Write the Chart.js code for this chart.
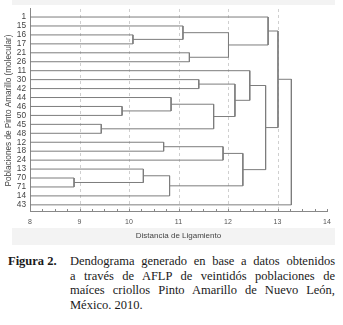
<!DOCTYPE html>
<html>
<head>
<meta charset="utf-8">
<script src="https://cdn.jsdelivr.net/npm/chart.js@4.4.1/dist/chart.umd.min.js"></script>
<style>
html,body{margin:0;padding:0;background:#fff;width:343px;height:325px;overflow:hidden}
#wrap{position:relative;width:343px;height:245px}
.cap{position:absolute;font-family:"Liberation Serif","Times New Roman",serif;font-size:12.5px;line-height:14.7px;color:#1a1a1a}
#lab{left:8px;top:254px;font-weight:bold}
#txt{left:70px;top:254px;width:265px}
#txt div{text-align:justify;text-align-last:justify;white-space:nowrap}
#txt div.last{text-align-last:left}
</style>
</head>
<body>
<div id="wrap"><canvas id="dendro" width="343" height="245"></canvas></div>
<div class="cap" id="lab">Figura 2.</div>
<div class="cap" id="txt">
  <div>Dendograma generado en base a datos obtenidos</div>
  <div>a través de AFLP de veintidós poblaciones de</div>
  <div>maíces criollos Pinto Amarillo de Nuevo León,</div>
  <div class="last">México. 2010.</div>
</div>
<script>
// leaves, top to bottom
const leaves=['1','15','16','17','21','26','11','30','42','44','46','50','45','48','12','18','24','13','70','71','14','43'];
// merges: index < 22 is a leaf, otherwise cluster made by merge (index-22)
const mergeA=[2,1,4,23,0,7,10,9,12,29,27,6,14,34,18,17,37,35,33,26,41];
const mergeB=[3,22,5,24,25,8,11,28,13,30,31,32,15,16,19,36,20,38,39,40,21];
const mergeDist=[10.08,11.09,11.22,12.01,12.81,11.41,9.86,10.85,9.44,11.71,12.14,12.44,10.70,11.90,8.89,10.29,10.82,12.30,12.76,13.01,13.28];
const xTicks=[8,9,10,11,12,13,14];

const xMin=xTicks[0], xMax=xTicks[xTicks.length-1];
const nodes=leaves.map((_,i)=>({x:xMin,y:i}));
const datasets=[];
mergeDist.forEach((d,i)=>{
  const a=nodes[mergeA[i]], b=nodes[mergeB[i]];
  datasets.push({
    data:[{x:a.x,y:a.y},{x:d,y:a.y},{x:d,y:b.y},{x:b.x,y:b.y}],
    showLine:true,borderColor:'#7d7d7d',borderWidth:1,pointRadius:0,tension:0,fill:false
  });
  nodes.push({x:d,y:(a.y+b.y)/2});
});

const frame={
  id:'frame',
  beforeDraw(chart){
    const c=chart.ctx;
    c.save();
    c.fillStyle='#f3f3f3';
    c.fillRect(12,0,323,5);
    c.fillRect(12,228,323,17);
    c.restore();
  },
  beforeDatasetsDraw(chart){
    const {ctx:c,chartArea:a,scales:{x}}=chart;
    c.save();
    c.strokeStyle='#cfcfcf'; c.lineWidth=1; c.setLineDash([3,3]);
    xTicks.slice(1,-1).forEach(v=>{
      const px=Math.round(x.getPixelForValue(v))+0.5;
      c.beginPath(); c.moveTo(px,a.top); c.lineTo(px,a.bottom); c.stroke();
    });
    c.setLineDash([]);
    c.strokeStyle='#888';
    x.ticks.forEach(t=>{
      const px=Math.round(x.getPixelForValue(t.value))+0.5;
      c.beginPath(); c.moveTo(px,a.bottom); c.lineTo(px,a.bottom-3); c.stroke();
    });
    c.restore();
  }
};

new Chart(document.getElementById('dendro'),{
  type:'scatter',
  data:{datasets},
  plugins:[frame],
  options:{
    responsive:false,animation:false,
    layout:{padding:{top:8,right:16,left:0,bottom:0}},
    plugins:{legend:{display:false},tooltip:{enabled:false}},
    scales:{
      x:{
        type:'linear',min:xMin,max:xMax,
        afterFit:s=>{s.height=33;},
        grid:{display:false,drawTicks:false},
        border:{display:true,color:'#888'},
        ticks:{stepSize:0.25,autoSkip:false,maxRotation:0,padding:6,color:'#555',
          font:{family:'"Liberation Sans", Arial, sans-serif',size:7},
          callback:v=>xTicks.includes(v)?String(v):''},
        title:{display:true,text:'Distancia de Ligamiento',color:'#444',padding:{top:0,bottom:4},
          font:{family:'"Liberation Sans", Arial, sans-serif',size:8}}
      },
      y:{
        type:'linear',reverse:true,min:-0.9,max:21.8,
        afterFit:s=>{s.width=30;},
        afterBuildTicks:s=>{s.ticks=leaves.map((_,i)=>({value:i}));},
        grid:{display:false,drawTicks:false},
        border:{display:true,color:'#888'},
        ticks:{autoSkip:false,padding:4,color:'#444',
          font:{family:'"Liberation Sans", Arial, sans-serif',size:8.3},
          callback:v=>leaves[v]},
        title:{display:true,text:'Poblaciones de Pinto Amarillo (molecular)',color:'#444',padding:{top:4,bottom:0},
          font:{family:'"Liberation Sans", Arial, sans-serif',size:8.2}}
      }
    }
  }
});
</script>
</body>
</html>
